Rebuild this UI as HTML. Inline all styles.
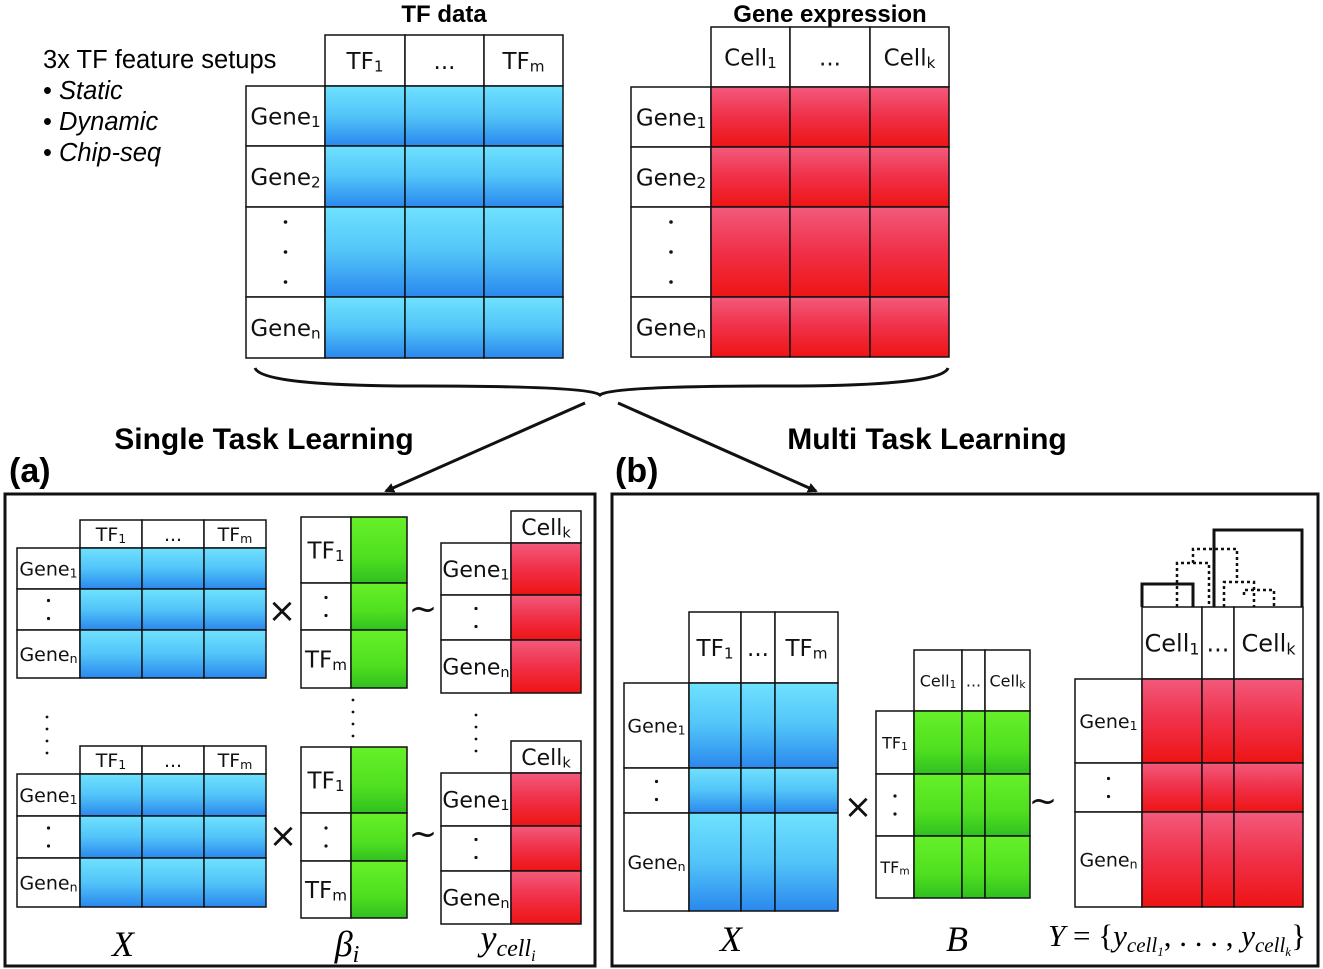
<!DOCTYPE html>
<html><head><meta charset="utf-8"><style>
html,body{margin:0;padding:0;background:#fff;}
svg{display:block;font-family:"DejaVu Sans","Liberation Sans",sans-serif;}
.t{font-family:"Liberation Sans",sans-serif;}
.m{font-family:"Liberation Serif",serif;font-style:italic;}
</style></head><body>
<svg id="s" width="1323" height="969" viewBox="0 0 1323 969">
<defs>
<linearGradient id="gb" x1="0" y1="0" x2="0" y2="1"><stop offset="0" stop-color="#6fe2ff"/><stop offset="0.5" stop-color="#52c4f8"/><stop offset="1" stop-color="#2a88ee"/></linearGradient>
<linearGradient id="gr" x1="0" y1="0" x2="0" y2="1"><stop offset="0" stop-color="#f25a7c"/><stop offset="0.5" stop-color="#f03048"/><stop offset="1" stop-color="#ee1414"/></linearGradient>
<linearGradient id="gg" x1="0" y1="0" x2="0" y2="1"><stop offset="0" stop-color="#66f028"/><stop offset="0.6" stop-color="#50e020"/><stop offset="1" stop-color="#30c020"/></linearGradient>
<marker id="ah" markerWidth="10" markerHeight="10" refX="8" refY="5" orient="auto" markerUnits="userSpaceOnUse"><path d="M0,0 L10,5 L0,10 z" fill="#111"/></marker>
</defs>
<text class="t" x="444" y="22" font-size="24" font-weight="bold" text-anchor="middle">TF data</text>
<text class="t" x="830" y="22" font-size="24" font-weight="bold" text-anchor="middle">Gene expression</text>
<g class="t" font-size="25.5">
<text x="43" y="68">3x TF feature setups</text>
<text x="43" y="99">• <tspan font-style="italic">Static</tspan></text>
<text x="43" y="130">• <tspan font-style="italic">Dynamic</tspan></text>
<text x="43" y="161">• <tspan font-style="italic">Chip-seq</tspan></text>
</g>
<path d="M255,368 Q262,386 420,386 Q590,386 600,395 Q610,386 780,386 Q942,386 948,368" fill="none" stroke="#111" stroke-width="3"/>
<line x1="585" y1="403" x2="386" y2="491" stroke="#111" stroke-width="3" marker-end="url(#ah)"/>
<line x1="618" y1="403" x2="816" y2="491" stroke="#111" stroke-width="3" marker-end="url(#ah)"/>
<text class="t" x="264" y="449" font-size="30" font-weight="bold" text-anchor="middle">Single Task Learning</text>
<text class="t" x="927" y="449" font-size="30" font-weight="bold" text-anchor="middle">Multi Task Learning</text>
<text class="t" x="9" y="482" font-size="34" font-weight="bold">(a)</text>
<text class="t" x="615" y="482" font-size="34" font-weight="bold">(b)</text>
<rect x="5" y="494" width="590" height="472" fill="none" stroke="#111" stroke-width="3"/>
<rect x="612" y="494" width="706" height="472" fill="none" stroke="#111" stroke-width="3"/>
<g font-size="34" text-anchor="middle" fill="#111">
<text x="282" y="622">×</text>
<text x="283" y="847">×</text>
<text x="423" y="620">~</text>
<text x="423" y="845">~</text>
<text x="858" y="818">×</text>
<text x="1043" y="812">~</text>
</g>
<g class="m" font-size="36" text-anchor="middle">
<text x="123" y="956">X</text>
<text x="347" y="956">β<tspan font-size="24" dy="6">i</tspan></text>
<text x="508" y="950">y<tspan font-size="24" dy="6">cell</tspan><tspan font-size="16" dy="5">i</tspan></text>
<text x="731" y="951">X</text>
<text x="957" y="951">B</text>
</g>
<text class="m" x="1048" y="946" font-size="31">Y <tspan font-style="normal">= {</tspan>y<tspan font-size="21" dy="6">cell</tspan><tspan font-size="13" dy="4">1</tspan><tspan dy="-10" font-style="normal">, . . . , </tspan>y<tspan font-size="21" dy="6">cell</tspan><tspan font-size="13" dy="4">k</tspan><tspan dy="-10" font-style="normal">}</tspan></text>
<g fill="none" stroke="#111" stroke-width="3">
<path d="M1142,607 V584 H1193 V607"/>
<path d="M1214,607 V530 H1302 V607"/>
<path d="M1177,607 V563 H1209 V607 M1193,563 V549 H1237 V582 M1224,607 V582 H1254 V607 M1244,595 V590 H1274 V607" stroke-dasharray="3,3" stroke-width="2.5"/>
</g>
<g id="tables"></g>
</svg>
<script>
var NS="http://www.w3.org/2000/svg";
var root=document.getElementById('tables');
function mk(tag,attrs,parent){var e=document.createElementNS(NS,tag);for(var k in attrs)e.setAttribute(k,attrs[k]);(parent||root).appendChild(e);return e;}
function label(g,cx,cy,lab,fs){
  if(!lab)return;
  if(lab==='dots'){
    mk('circle',{cx:cx,cy:cy-9,r:1.6,fill:'#111'},g);
    mk('circle',{cx:cx,cy:cy+9,r:1.6,fill:'#111'},g);
    return;}
  if(lab==='dots3'){
    [-30,0,30].forEach(function(o){mk('circle',{cx:cx,cy:cy+o,r:1.8,fill:'#111'},g);});return;}
  var t=mk('text',{x:cx,y:cy+fs*0.36,'font-size':fs,'text-anchor':'middle',fill:'#111'},g);
  
  
  var parts=lab.split('|');
  t.appendChild(document.createTextNode(parts[0]));
  if(parts[1]){var s=document.createElementNS(NS,'tspan');s.setAttribute('font-size',fs*0.66);s.setAttribute('dy',fs*0.12);s.textContent=parts[1];t.appendChild(s);}
}
function table(name,lx,cols,hy,rows,heads,rlabs,grad,fs,hfs){
  var g=mk('g',{});
  
  
  var y0=rows[0];
  if(hy<y0){
    for(var i=0;i<cols.length-1;i++){
      var h=mk('rect',{x:cols[i],y:hy,width:cols[i+1]-cols[i],height:y0-hy,fill:'#fff',stroke:'#111','stroke-width':1.5},g);
      
      
      label(g,(cols[i]+cols[i+1])/2,(hy+y0)/2,heads[i],hfs||fs);
    }
  }
  for(var r=0;r<rows.length-1;r++){
    var rl=mk('rect',{x:lx,y:rows[r],width:cols[0]-lx,height:rows[r+1]-rows[r],fill:'#fff',stroke:'#111','stroke-width':1.5},g);
    
    
    label(g,(lx+cols[0])/2,(rows[r]+rows[r+1])/2,rlabs[r],fs);
    for(var c=0;c<cols.length-1;c++){
      var rc=mk('rect',{x:cols[c],y:rows[r],width:cols[c+1]-cols[c],height:rows[r+1]-rows[r],fill:'url(#'+grad+')',stroke:'#111','stroke-width':1.5},g);
      
      
    }
  }
}
var GL=['Gene|1','Gene|2','dots3','Gene|n'];
table('tf-data-table',246,[325,405,484,563],35,[86,146,207,297,358],['TF|1','...','TF|m'],GL,'gb',23);
table('gene-expression-table',631,[711,790,870,949],27,[87,147,207,297,357],['Cell|1','...','Cell|k'],GL,'gr',23);
var G3=['Gene|1','dots','Gene|n'];
table('x-table-a1',17,[80,142,204,266],520,[548,589,630,678],['TF|1','...','TF|m'],G3,'gb',19);
table('x-table-a2',17,[80,142,204,266],746,[774,816,858,907],['TF|1','...','TF|m'],G3,'gb',19);
table('beta-table-a1',301,[351,407],517,[517,583,630,688],[],['TF|1','dots','TF|m'],'gg',23);
table('beta-table-a2',301,[351,407],747,[747,813,861,918],[],['TF|1','dots','TF|m'],'gg',23);
table('y-table-a1',441,[511,581],511,[543,595,640,693],['Cell|k'],G3,'gr',22);
table('y-table-a2',441,[511,581],741,[773,826,871,924],['Cell|k'],G3,'gr',22);
table('x-table-b',624,[689,741,775,838],612,[683,768,813,911],['TF|1','...','TF|m'],G3,'gb',19,23);
table('b-table',876,[914,962,985,1030],650,[711,774,836,898],['Cell|1','...','Cell|k'],['TF|1','dots','TF|m'],'gg',16,16);
table('y-table-b',1075,[1142,1202,1234,1303],607,[679,763,812,907],['Cell|1','...','Cell|k'],G3,'gr',19,24);
[[47,735],[353,718],[476,733]].forEach(function(p){
  var g=mk('g',{});
  
  
  [-18,-6,6,18].forEach(function(o){mk('circle',{cx:p[0],cy:p[1]+o,r:1.4,fill:'#111'},g);});
});
</script>
</body></html>
